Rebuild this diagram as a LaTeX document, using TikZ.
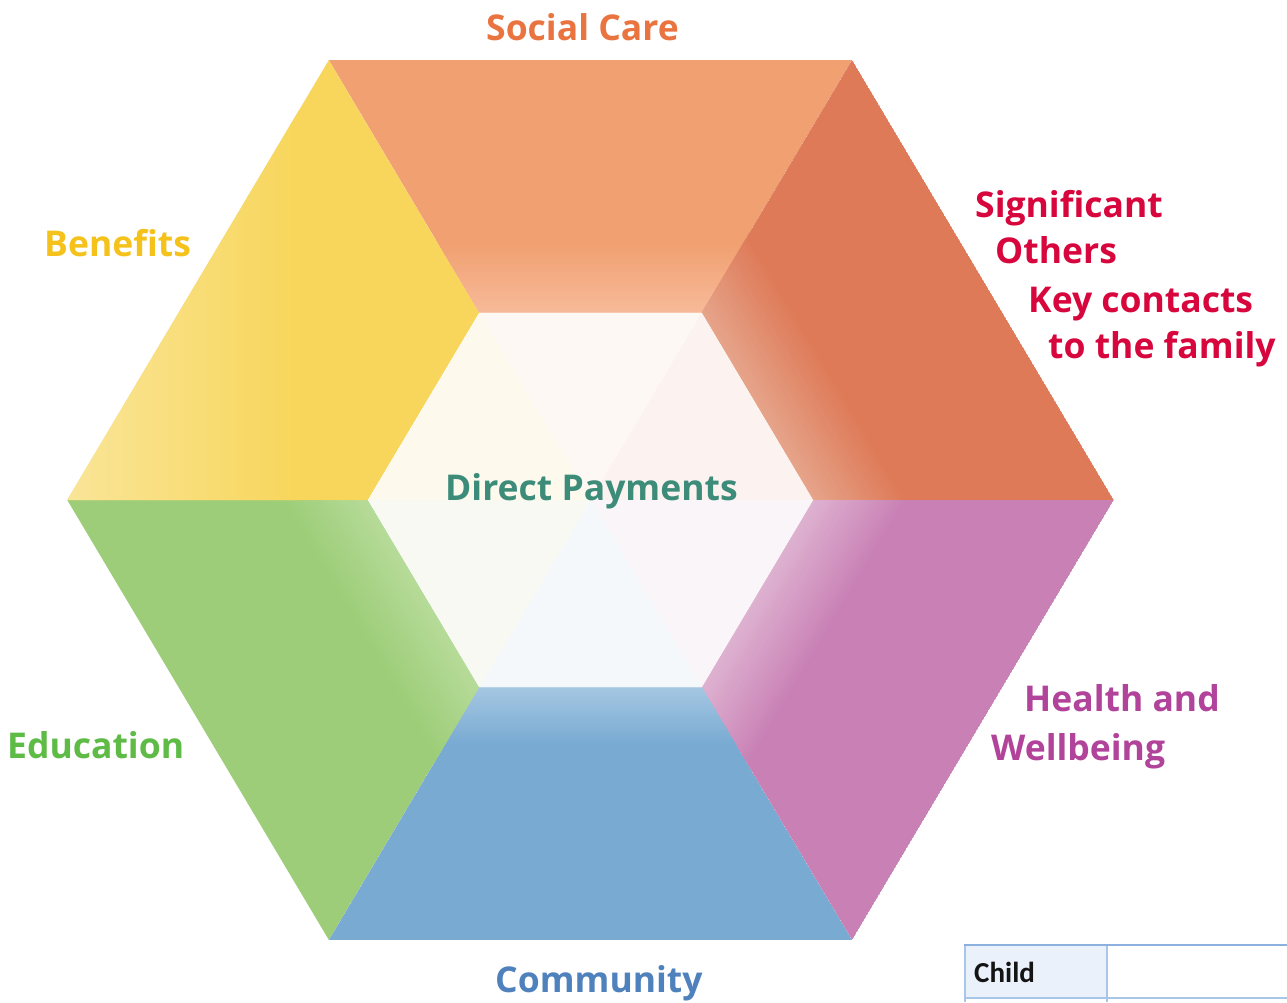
\documentclass[tikz,border=0pt]{standalone}
\usepackage{fontspec}
\setmainfont{Open Sans}
\newfontfamily\tablefont{Carlito}
\definecolor{scBase}{HTML}{F1A071}\definecolor{scLight}{HTML}{F6BA98}
\definecolor{soBase}{HTML}{DE7A58}\definecolor{soLight}{HTML}{E6A48A}
\definecolor{hwBase}{HTML}{C981B5}\definecolor{hwLight}{HTML}{DEB2D1}
\definecolor{cmBase}{HTML}{78AAD2}\definecolor{cmLight}{HTML}{A5C7E2}
\definecolor{edBase}{HTML}{9DCD78}\definecolor{edLight}{HTML}{B6DB99}
\definecolor{bnBase}{HTML}{F8D65C}\definecolor{bnLight}{HTML}{F9E597}
\definecolor{scText}{HTML}{EA7440}
\definecolor{bnText}{HTML}{F5C21B}
\definecolor{soText}{HTML}{D7063C}
\definecolor{hwText}{HTML}{B2439A}
\definecolor{edText}{HTML}{5EBB46}
\definecolor{cmText}{HTML}{4F82BD}
\definecolor{dpText}{HTML}{3C8C79}
\definecolor{tblLine}{HTML}{A8C6E8}
\definecolor{tblTop}{HTML}{8DB1DE}
\definecolor{tblHead}{HTML}{EAF1FA}
\newcommand\hexseg[5]{%
  \begin{scope}
    \clip (O#1) -- (O#2) -- (I#2) -- (I#1) -- cycle;
    \fill[#3] (O#1) -- (O#2) -- (I#2) -- (I#1) -- cycle;
    \begin{scope}[shift={(590.5,500)}, xscale=1.03, rotate=-60*#1]
      \foreach \i in {0,...,29} {
        \pgfmathtruncatemacro\pp{100*\i/29}
        \fill[#3!\pp!#4] (-700,{-186-\i*#5/30}) rectangle (700,{-187-(\i+1)*#5/30-0.6});
      }
    \end{scope}
  \end{scope}}
\begin{document}
\begin{tikzpicture}[x=1pt,y=-1pt,
  lab/.style={anchor=base west, inner sep=0pt, font=\fontsize{35.5}{42}\selectfont\bfseries}]
\useasboundingbox (0,0) rectangle (1287,1002);
\fill[white] (0,0) rectangle (1287,1002);
\begin{scope}[shift={(590.5,500)}, xscale=1.03]
  \foreach \k in {0,...,5} {
    \coordinate (O\k) at ({240+60*\k}:508);
    \coordinate (I\k) at ({240+60*\k}:216);
  }
  \coordinate (C) at (0,0);
\end{scope}
% outer segments
\hexseg{0}{1}{scBase}{scLight}{70}
\hexseg{1}{2}{soBase}{soLight}{80}
\hexseg{2}{3}{hwBase}{hwLight}{80}
\hexseg{3}{4}{cmBase}{cmLight}{60}
\hexseg{4}{5}{edBase}{edLight}{75}
% benefits segment: horizontal gradient
\begin{scope}
  \clip (O5) -- (O0) -- (I0) -- (I5) -- cycle;
  \fill[bnBase] (O5) -- (O0) -- (I0) -- (I5) -- cycle;
  \foreach \i in {0,...,29} {
    \pgfmathtruncatemacro\pp{100*\i/29}
    \fill[bnBase!\pp!bnLight] ({68+\i*230/30},0) rectangle ({68+(\i+1)*230/30+0.6},1002);
  }
\end{scope}
% inner hexagon
\fill[white] (I0) -- (I1) -- (I2) -- (I3) -- (I4) -- (I5) -- cycle;
\fill[fill={rgb,255:red,254;green,248;blue,245}] (C) -- (I0) -- (I1) -- cycle;
\fill[fill={rgb,255:red,252;green,243;blue,240}] (C) -- (I1) -- (I2) -- cycle;
\fill[fill={rgb,255:red,250;green,245;blue,249}] (C) -- (I2) -- (I3) -- cycle;
\fill[fill={rgb,255:red,244;green,248;blue,251}] (C) -- (I3) -- (I4) -- cycle;
\fill[fill={rgb,255:red,247;green,249;blue,242}] (C) -- (I4) -- (I5) -- cycle;
\fill[fill={rgb,255:red,253;green,249;blue,237}] (C) -- (I5) -- (I0) -- cycle;
% labels
\node[lab, text=scText] (social) at (486,40) {Social Care};
\node[lab, text=bnText] (benefits) at (44,256) {Benefits};
\node[lab, text=soText] (sig1) at (975,217) {Significant};
\node[lab, text=soText] (sig2) at (995,263) {Others};
\node[lab, text=soText] (sig3) at (1028,312) {Key contacts};
\node[lab, text=soText] (sig4) at (1048,358) {to the family};
\node[lab, text=hwText] (health1) at (1024,711) {Health and};
\node[lab, text=hwText] (health2) at (991,760) {Wellbeing};
\node[lab, text=edText] (education) at (7,758) {Education};
\node[lab, text=cmText] (community) at (495,992) {Community};
\node[lab, text=dpText] (direct) at (445,500) {Direct Payments};
% table fragment
\fill[tblHead] (966,946) rectangle (1106,997);
\draw[tblLine, line width=1.5pt] (965,945) -- (965,1002);
\draw[tblLine, line width=1.5pt] (1107,945) -- (1107,1002);
\draw[tblLine, line width=1.5pt] (965,998) -- (1287,998);
\draw[tblTop, line width=2pt] (964,945) -- (1287,945);
\node[anchor=base west, inner sep=0pt, font=\tablefont\bfseries\fontsize{29}{34}\selectfont, text={rgb,255:red,20;green,20;blue,20}] (child) at (974,982) {Child};
\end{tikzpicture}
\end{document}
